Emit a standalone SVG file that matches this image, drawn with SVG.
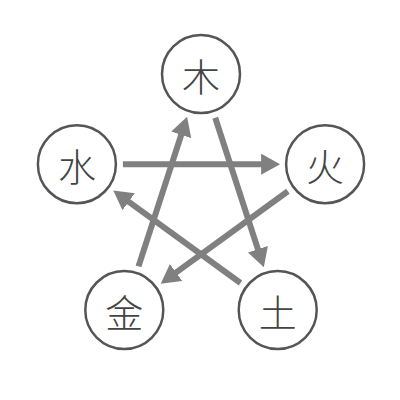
<svg xmlns="http://www.w3.org/2000/svg" width="400" height="400" viewBox="0 0 400 400">
<style>
.node circle{fill:#fff;stroke:#555;stroke-width:2.5}
.node text{font-family:"Noto Sans CJK SC","Noto Sans CJK JP",sans-serif;font-size:38px;font-weight:300;fill:#444;text-anchor:middle;dominant-baseline:central}
.conn line{stroke:#808080;stroke-width:6;fill:none;marker-end:url(#ah)}
</style>
<defs>
<marker id="ah" markerUnits="userSpaceOnUse" markerWidth="20" markerHeight="22" refX="7" refY="10.5" orient="auto" viewBox="0 0 20 22">
<path d="M0,0 L19,10.5 L0,21 z" fill="#808080"/>
</marker>
</defs>
<rect width="400" height="400" fill="#fff"/>
<g id="connectors" class="conn">
<line x1="215.22" y1="117.75" x2="260.09" y2="255.87"/>
<line x1="240.50" y1="283.04" x2="123.01" y2="197.67"/>
<line x1="122.89" y1="164.17" x2="268.11" y2="164.17"/>
<line x1="287.90" y1="191.21" x2="170.41" y2="276.58"/>
<line x1="138.51" y1="266.33" x2="183.38" y2="128.21"/>
</g>
<g id="wood" class="node"><circle cx="201" cy="74" r="39"/><text x="201" y="74">木</text></g>
<g id="fire" class="node"><circle cx="325.11" cy="164.17" r="39"/><text x="325.11" y="164.17">火</text></g>
<g id="earth" class="node"><circle cx="277.71" cy="310.08" r="39"/><text x="277.71" y="310.08">土</text></g>
<g id="metal" class="node"><circle cx="124.29" cy="310.08" r="39"/><text x="124.29" y="310.08">金</text></g>
<g id="water" class="node"><circle cx="76.89" cy="164.17" r="39"/><text x="76.89" y="164.17">水</text></g>
</svg>
